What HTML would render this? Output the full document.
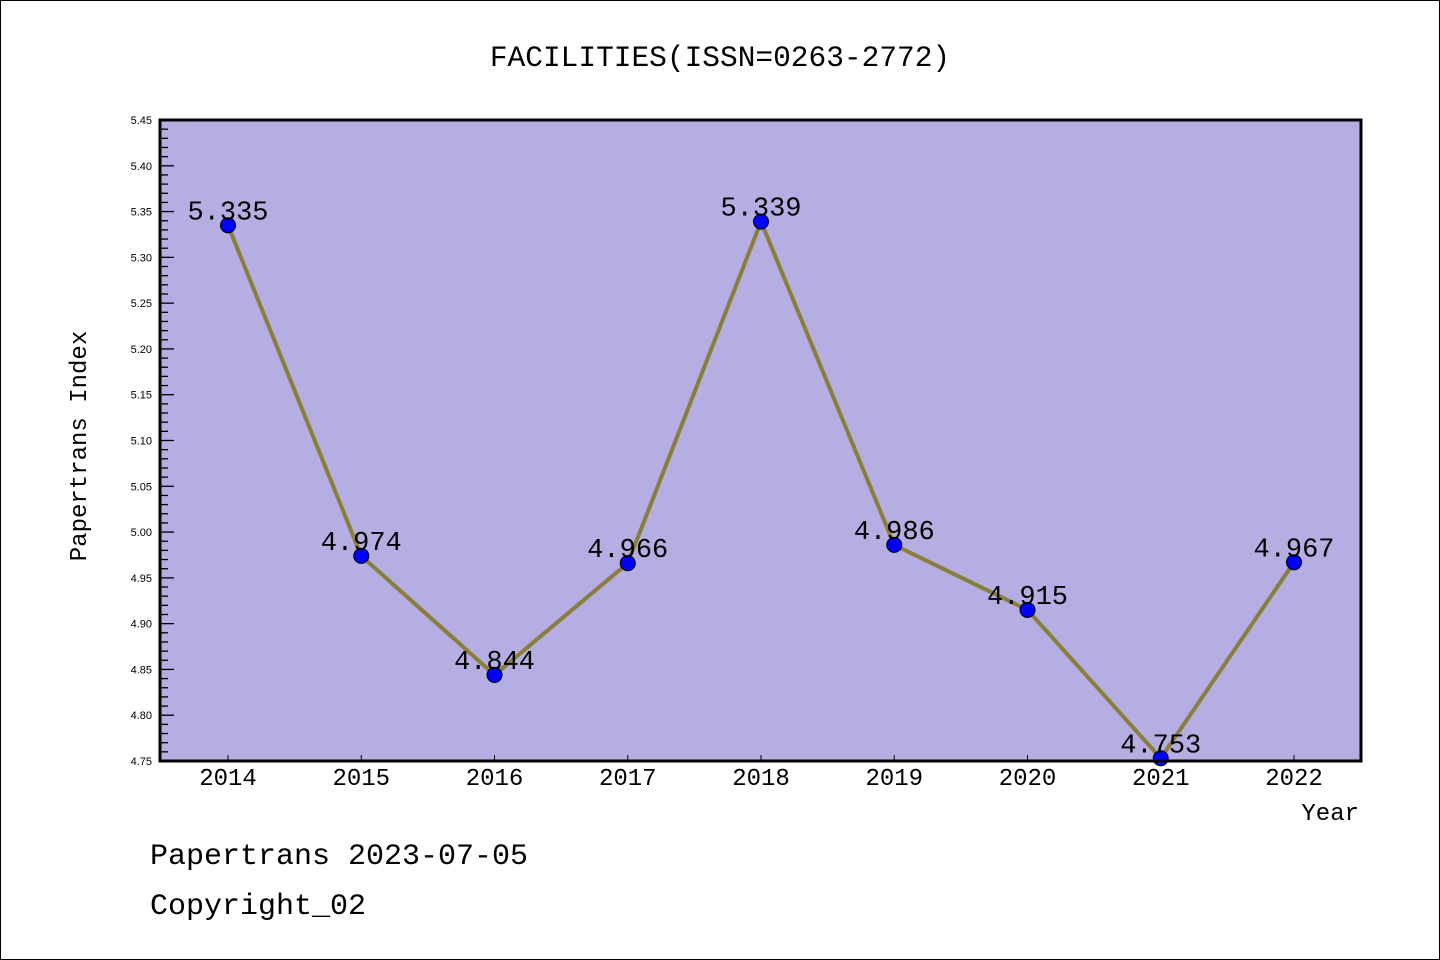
<!DOCTYPE html>
<html><head><meta charset="utf-8"><style>
body{margin:0;background:#fff}
svg{display:block}
</style></head><body>
<svg id="chart" width="1440" height="960" xmlns="http://www.w3.org/2000/svg">
<rect x="0.5" y="0.5" width="1439" height="959" fill="#fff" stroke="#000" stroke-width="1"/>
<text x="720" y="66" text-anchor="middle" font-family="Liberation Mono, monospace" font-size="29.5" fill="#000">FACILITIES(ISSN=0263-2772)</text>
<rect x="160" y="120" width="1201" height="641" fill="#b5aee2"/>
<g id="axes"></g>
<g id="marks"></g>
<rect x="160" y="120" width="1201" height="641" fill="none" stroke="#000" stroke-width="3"/>
<text x="86" y="446" text-anchor="middle" transform="rotate(-90 86 446)" font-family="Liberation Mono, monospace" font-size="24" fill="#000">Papertrans Index</text>
<text x="1359" y="820" text-anchor="end" font-family="Liberation Mono, monospace" font-size="24" fill="#000">Year</text>
<text x="150" y="864" font-family="Liberation Mono, monospace" font-size="30" fill="#000">Papertrans 2023-07-05</text>
<text x="150" y="914" font-family="Liberation Mono, monospace" font-size="30" fill="#000">Copyright_02</text>
</svg>
<script>
const years = ["2014","2015","2016","2017","2018","2019","2020","2021","2022"];
const values = [5.335,4.974,4.844,4.966,5.339,4.986,4.915,4.753,4.967];
const yTicks = ["4.75","4.80","4.85","4.90","4.95","5.00","5.05","5.10","5.15","5.20","5.25","5.30","5.35","5.40","5.45"];
const yMin = 4.75, yMax = 5.45;
const NS = "http://www.w3.org/2000/svg";
function xScale(i){ return 228 + i * (1294 - 228) / (years.length - 1); }
function yScale(v){ return 761 - (v - yMin) / (yMax - yMin) * 641; }
function mk(tag, attrs, parent){ const e = document.createElementNS(NS, tag); for (const k in attrs) e.setAttribute(k, attrs[k]); parent.appendChild(e); return e; }
const axes = document.getElementById('axes');
const marks = document.getElementById('marks');
// minor ticks
for (let k = 0; k <= Math.round((yMax - yMin) / 0.01); k++) {
  const v = yMin + k * 0.01;
  const y = yScale(v);
  const major = k % 5 === 0;
  const t = mk('line', {x1:160, x2:160 + (major ? 14 : 8), y1:y, y2:y, stroke:'#000', 'stroke-width':1.3}, axes);
  
  
}
yTicks.forEach(s => {
  const y = yScale(parseFloat(s));
  const t = mk('text', {x:152, y:y + 4, 'text-anchor':'end', 'font-family':'Liberation Sans, sans-serif', 'font-size':11, fill:'#000'}, axes);
  t.textContent = s;
  
  
});
years.forEach((yr, i) => {
  const x = xScale(i);
  const t = mk('line', {x1:x, x2:x, y1:761, y2:755, stroke:'#000', 'stroke-width':1}, axes);
  
  
  const l = mk('text', {x:x, y:785, 'text-anchor':'middle', 'font-family':'Liberation Mono, monospace', 'font-size':24, fill:'#000'}, axes);
  l.textContent = yr;
  
  
});
const pts = values.map((v, i) => xScale(i) + ',' + yScale(v)).join(' ');
const line = mk('polyline', {points:pts, fill:'none', stroke:'#8b7d3a', 'stroke-width':4, 'stroke-linejoin':'round'}, marks);


values.forEach((v, i) => {
  const x = xScale(i), y = yScale(v);
  const c = mk('circle', {cx:x, cy:y, r:7.5, fill:'#0000ff', stroke:'#000', 'stroke-width':1}, marks);
  
  
  const t = mk('text', {x:x, y:y - 6, 'text-anchor':'middle', 'font-family':'Liberation Mono, monospace', 'font-size':27, fill:'#000'}, marks);
  t.textContent = v.toFixed(3);
  
  
});
</script>
</body></html>
